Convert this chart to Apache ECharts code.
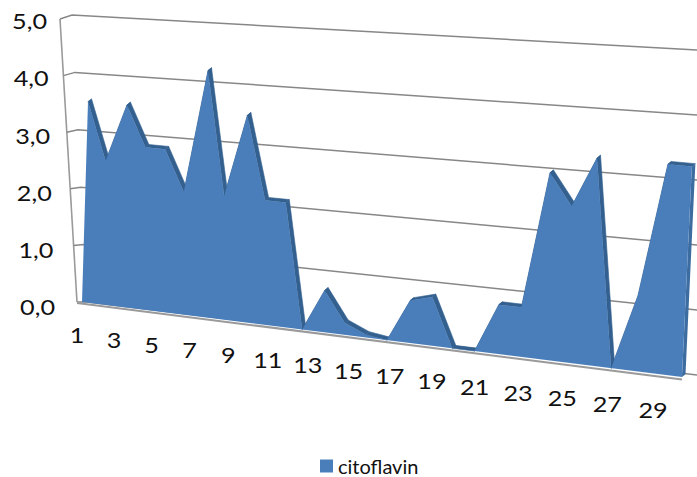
<!DOCTYPE html>
<html>
<head>
<meta charset="utf-8">
<script src="https://cdn.jsdelivr.net/npm/echarts@6/dist/echarts.min.js"></script>
<style>
  html, body { margin: 0; padding: 0; background: #ffffff; }
  #chart { width: 697px; height: 477px; }
</style>
</head>
<body>
<div id="chart"></div>
<script>
// Categories on the horizontal axis
const categories = ['1','2','3','4','5','6','7','8','9','10','11','12','13','14','15',
  '16','17','18','19','20','21','22','23','24','25','26','27','28','29'];
// citoflavin series values
const citoflavin = [3.5, 2.5, 3.5, 2.8, 2.8, 2.1, 4.2, 2.1, 3.5, 2.1, 2.1, 0.0, 0.7, 0.2, 0.05,
  0.0, 0.7, 0.8, 0.0, 0.0, 0.8, 0.8, 3.0, 2.5, 3.3, 0.0, 1.2, 3.3, 3.3];
// Value axis ticks and their labels
const yTicks = [0, 1, 2, 3, 4, 5];
const yTickLabels = ['0,0', '1,0', '2,0', '3,0', '4,0', '5,0'];
const xLabelStep = 2;

// ---- perspective helpers -------------------------------------------------
// Maps the unit square (u right, v up) onto a screen quadrilateral.
function quadMap(p0, p1, p2, p3) {
  const dx1 = p1[0] - p2[0], dx2 = p3[0] - p2[0], dx3 = p0[0] - p1[0] + p2[0] - p3[0];
  const dy1 = p1[1] - p2[1], dy2 = p3[1] - p2[1], dy3 = p0[1] - p1[1] + p2[1] - p3[1];
  const det = dx1 * dy2 - dx2 * dy1;
  const g = (dx3 * dy2 - dx2 * dy3) / det;
  const h = (dx1 * dy3 - dx3 * dy1) / det;
  const a = p1[0] - p0[0] + g * p1[0], b = p3[0] - p0[0] + h * p3[0], c = p0[0];
  const d = p1[1] - p0[1] + g * p1[1], e = p3[1] - p0[1] + h * p3[1], f = p0[1];
  return function (u, v) {
    const w = g * u + h * v + 1;
    return [(a * u + b * v + c) / w, (d * u + e * v + f) / w];
  };
}
function lerp(p, q, t) { return [p[0] + (q[0] - p[0]) * t, p[1] + (q[1] - p[1]) * t]; }

// front plane of the area slab
const front = quadMap([82, 302], [682, 377], [697, 57], [90.6, 15]);
// walls: left front edge, back-left edge, back wall at the right border
const axisBottom = [77, 302], axisTop = [60, 19];
const backLeftBottom = [86.7, 302], backLeftTop = [72, 15];
const backRightBottom = [697, 375], backRightTop = [697, 50];
const depth = [3.5, -2.8];

// converts a data point into unit-square coordinates via the grid's scales
function toUnit(api, rect, xVal, yVal) {
  const p = api.coord([xVal, yVal]);
  return [(p[0] - rect.x) / rect.width, (rect.y + rect.height - p[1]) / rect.height];
}

const chart = echarts.init(document.getElementById('chart'), null, { renderer: 'svg' });

const labelFont = { fontFamily: 'Lato', fontSize: 21, fill: '#111111' };
const textScale = 1.2;

const option = {
  animation: false,
  backgroundColor: '#ffffff',
  grid: { left: 100, top: 60, width: 400, height: 300, show: false },
  xAxis: { type: 'category', data: categories, boundaryGap: false, show: false },
  yAxis: { type: 'value', min: 0, max: 5, interval: 1, show: false },
  legend: {
    data: ['citoflavin'],
    left: 320, top: 456, padding: 0,
    icon: 'rect', itemWidth: 13, itemHeight: 13,
    textStyle: { fontFamily: 'Lato', fontSize: 20, lineHeight: 20, color: '#111111' }
  },
  series: [
    // walls: side + back gridlines for each tick, plus axis edges
    {
      type: 'custom', name: 'walls', silent: true, z: 1,
      data: yTicks.map(t => [0, t]),
      renderItem: function (params, api) {
        const rect = params.coordSys;
        const v = toUnit(api, rect, 0, api.value(1))[1];
        const pf = lerp(axisBottom, axisTop, v);
        const pb = lerp(backLeftBottom, backLeftTop, v);
        const pr = lerp(backRightBottom, backRightTop, v);
        const children = [{
          type: 'polyline',
          shape: { points: [pf, pb, pr] },
          style: { stroke: '#878787', lineWidth: 1.5, fill: null }
        }];
        if (params.dataIndex === 0) {
          children.push({
            type: 'line',
            shape: { x1: axisBottom[0], y1: axisBottom[1], x2: axisTop[0], y2: axisTop[1] },
            style: { stroke: '#9a9a9a', lineWidth: 1.6 }
          });
          const endU = toUnit(api, rect, categories.length - 1, 0);
          const fr = front(endU[0], endU[1]);
          children.push({
            type: 'line',
            shape: { x1: axisBottom[0], y1: axisBottom[1] + 1, x2: fr[0], y2: fr[1] + 2.5 },
            style: { stroke: '#9a9a9a', lineWidth: 2 }
          });
        }
        return { type: 'group', children: children };
      }
    },
    // value-axis labels along the left edge
    {
      type: 'custom', name: 'yLabels', silent: true, z: 3,
      data: yTicks.map((t, i) => [0, t, i]),
      renderItem: function (params, api) {
        const rect = params.coordSys;
        const v = toUnit(api, rect, 0, api.value(1))[1];
        const a = lerp(axisBottom, axisTop, v);
        return {
          type: 'text', x: a[0] - 22 + 9 * v, y: a[1] + 3 * (1 - v) + 2, scaleX: textScale,
          style: Object.assign({ text: yTickLabels[api.value(2)], x: 0, y: 0,
            align: 'right', verticalAlign: 'middle' }, labelFont)
        };
      }
    },
    // category labels along the floor's front edge
    {
      type: 'custom', name: 'xLabels', silent: true, z: 3,
      data: categories.map((c, i) => [i, 0]),
      renderItem: function (params, api) {
        const i = api.value(0);
        if (i % xLabelStep !== 0) return null;
        const rect = params.coordSys;
        const uv = toUnit(api, rect, i, 0);
        const p = front(uv[0], uv[1]);
        return {
          type: 'text', x: p[0] - 5 - 24 * uv[0], y: p[1] + 33, scaleX: textScale,
          style: Object.assign({ text: categories[i], x: 0, y: 0,
            align: 'center', verticalAlign: 'middle' }, labelFont)
        };
      }
    },
    // the citoflavin area, drawn as a slab with a thin top surface
    {
      type: 'custom', name: 'citoflavin', z: 2,
      itemStyle: { color: '#4a7ebb' },
      data: citoflavin.map((v, i) => [i, v]),
      renderItem: function (params, api) {
        if (params.dataIndex !== 0) return null;
        const rect = params.coordSys;
        const top = citoflavin.map((val, j) => {
          const uv = toUnit(api, rect, j, val);
          return front(uv[0], uv[1]);
        });
        const n = top.length;
        const u0 = toUnit(api, rect, 0, 0), u1 = toUnit(api, rect, n - 1, 0);
        const bl = front(u0[0], u0[1]), br = front(u1[0], u1[1]);
        const sh = p => [p[0] + depth[0], p[1] + depth[1]];
        const children = [];
        for (let j = 0; j < n - 1; j++) {
          children.push({
            type: 'polygon',
            shape: { points: [top[j], top[j + 1], sh(top[j + 1]), sh(top[j])] },
            style: { fill: '#33608f', stroke: '#33608f', lineWidth: 0.6 }
          });
        }
        children.push({
          type: 'polygon',
          shape: { points: [br, top[n - 1], sh(top[n - 1]), sh(br)] },
          style: { fill: '#3d6ca1' }
        });
        children.push({
          type: 'polygon',
          shape: { points: [bl].concat(top, [br]) },
          style: { fill: '#4a7ebb' }
        });
        return { type: 'group', children: children };
      }
    }
  ]
};
chart.setOption(option);
</script>
</body>
</html>
